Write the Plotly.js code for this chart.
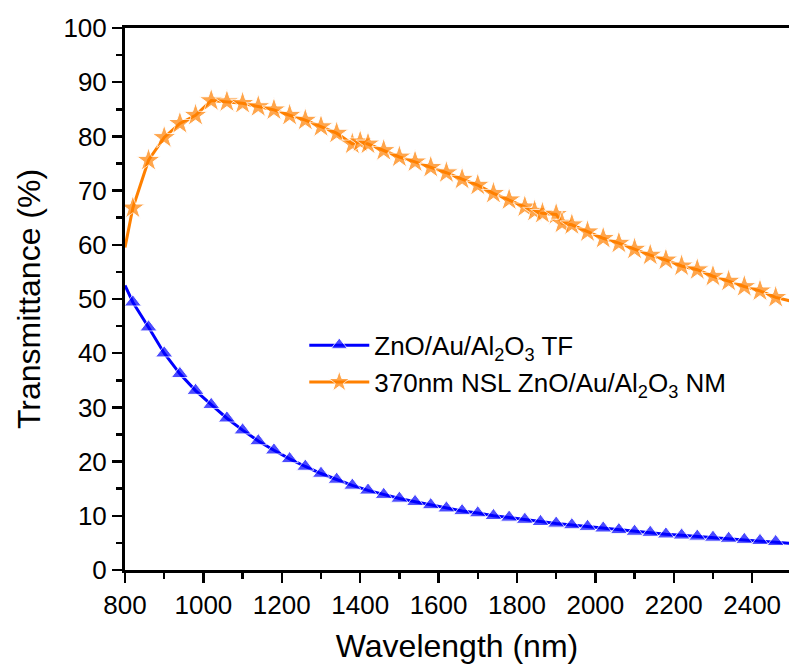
<!DOCTYPE html>
<html>
<head>
<meta charset="utf-8">
<script src="https://cdn.plot.ly/plotly-3.0.1.min.js"></script>
<style>html,body{margin:0;padding:0;background:#fff;overflow:hidden}</style>
</head>
<body>
<div id="chart" style="width:789px;height:668px"></div>
<script>
// Series 1: ZnO/Au/Al2O3 TF
const tfWavelength = [800, 820, 860, 900, 940, 980, 1020, 1060, 1100, 1140, 1180, 1220, 1260, 1300, 1340, 1380, 1420, 1460, 1500, 1540, 1580, 1620, 1660, 1700, 1740, 1780, 1820, 1860, 1900, 1940, 1980, 2020, 2060, 2100, 2140, 2180, 2220, 2260, 2300, 2340, 2380, 2420, 2460, 2500];
const tfTransmittance = [52.5, 49.4, 44.8, 40.0, 36.2, 33.1, 30.5, 28.0, 25.8, 23.8, 22.1, 20.5, 19.1, 17.8, 16.7, 15.6, 14.7, 13.9, 13.2, 12.6, 12.0, 11.4, 10.9, 10.5, 10.0, 9.7, 9.3, 8.9, 8.6, 8.3, 8.0, 7.7, 7.4, 7.1, 6.9, 6.6, 6.4, 6.2, 6.0, 5.8, 5.6, 5.4, 5.2, 4.9];

// Series 2: 370nm NSL ZnO/Au/Al2O3 NM
const nmWavelength = [800, 820, 860, 900, 940, 980, 1020, 1060, 1100, 1140, 1180, 1220, 1260, 1300, 1340, 1380, 1400, 1420, 1460, 1500, 1540, 1580, 1620, 1660, 1700, 1740, 1780, 1820, 1845, 1865, 1900, 1915, 1940, 1980, 2020, 2060, 2100, 2140, 2180, 2220, 2260, 2300, 2340, 2380, 2420, 2460, 2500];
const nmTransmittance = [59.5, 66.8, 75.6, 79.8, 82.4, 83.9, 86.6, 86.4, 86.1, 85.5, 84.9, 83.9, 83.0, 81.8, 80.6, 78.6, 79.0, 78.6, 77.4, 76.2, 75.3, 74.3, 73.3, 72.1, 71.0, 69.5, 68.3, 67.0, 66.2, 65.8, 65.6, 64.0, 63.7, 62.4, 61.2, 60.3, 59.2, 58.1, 57.2, 56.1, 55.4, 54.2, 53.3, 52.3, 51.5, 50.3, 49.6];

const seriesNames = ['ZnO/Au/Al<sub>2</sub>O<sub>3</sub> TF', '370nm NSL ZnO/Au/Al<sub>2</sub>O<sub>3</sub> NM'];
const xTitle = 'Wavelength (nm)';
const yTitle = 'Transmittance (%)';

// markers hidden on the end points (curve starts/ends at frame)
function sizes(arr, s) { return arr.map((v, i) => (i === 0 || i === arr.length - 1) ? 0 : s); }

const FONT = 'Liberation Sans, Arial, sans-serif';

const traces = [
  {
    x: tfWavelength, y: tfTransmittance, name: seriesNames[0],
    mode: 'lines+markers', type: 'scatter',
    line: {color: '#0000FF', width: 3},
    marker: {symbol: 'triangle-up', size: sizes(tfWavelength, 15), color: '#0000FF'}
  },
  {
    x: nmWavelength, y: nmTransmittance, name: seriesNames[1],
    mode: 'lines+markers', type: 'scatter',
    line: {color: '#FF8000', width: 3},
    marker: {symbol: 'star', size: sizes(nmWavelength, 18), color: '#FF8000'}
  }
];

const layout = {
  width: 789, height: 668,
  margin: {l: 125, r: 0, t: 28, b: 98},
  paper_bgcolor: '#fff', plot_bgcolor: '#fff',
  font: {family: FONT, color: '#000'},
  showlegend: true,
  legend: {
    x: 0.27, y: 0.458, xanchor: 'left', yanchor: 'top',
    bgcolor: 'rgba(0,0,0,0)', borderwidth: 0,
    font: {family: FONT, size: 26, color: '#000'},
    itemwidth: 60, tracegroupgap: 0
  },
  xaxis: {
    range: [800, 2494], showgrid: false, zeroline: false,
    showline: true, linecolor: '#000', linewidth: 3, mirror: true,
    ticks: 'outside', ticklen: 10, tickwidth: 2.5, tickcolor: '#000',
    tick0: 800, dtick: 200,
    minor: {ticks: 'outside', dtick: 100, ticklen: 6, tickwidth: 2.5, tickcolor: '#000'},
    tickfont: {family: FONT, size: 26, color: '#000'},
    title: {text: xTitle, font: {family: FONT, size: 32, color: '#000'}, standoff: 16},
    automargin: false
  },
  yaxis: {
    range: [0, 100], showgrid: false, zeroline: false,
    showline: true, linecolor: '#000', linewidth: 3,
    ticks: 'outside', ticklen: 10, tickwidth: 2.5, tickcolor: '#000',
    tick0: 0, dtick: 10,
    minor: {ticks: 'outside', dtick: 5, ticklen: 6, tickwidth: 2.5, tickcolor: '#000'},
    tickfont: {family: FONT, size: 26, color: '#000'},
    title: {text: yTitle, font: {family: FONT, size: 32, color: '#000'}, standoff: 14},
    automargin: false
  }
};

Plotly.newPlot('chart', traces, layout, {displayModeBar: false, staticPlot: true});
</script>
</body>
</html>
